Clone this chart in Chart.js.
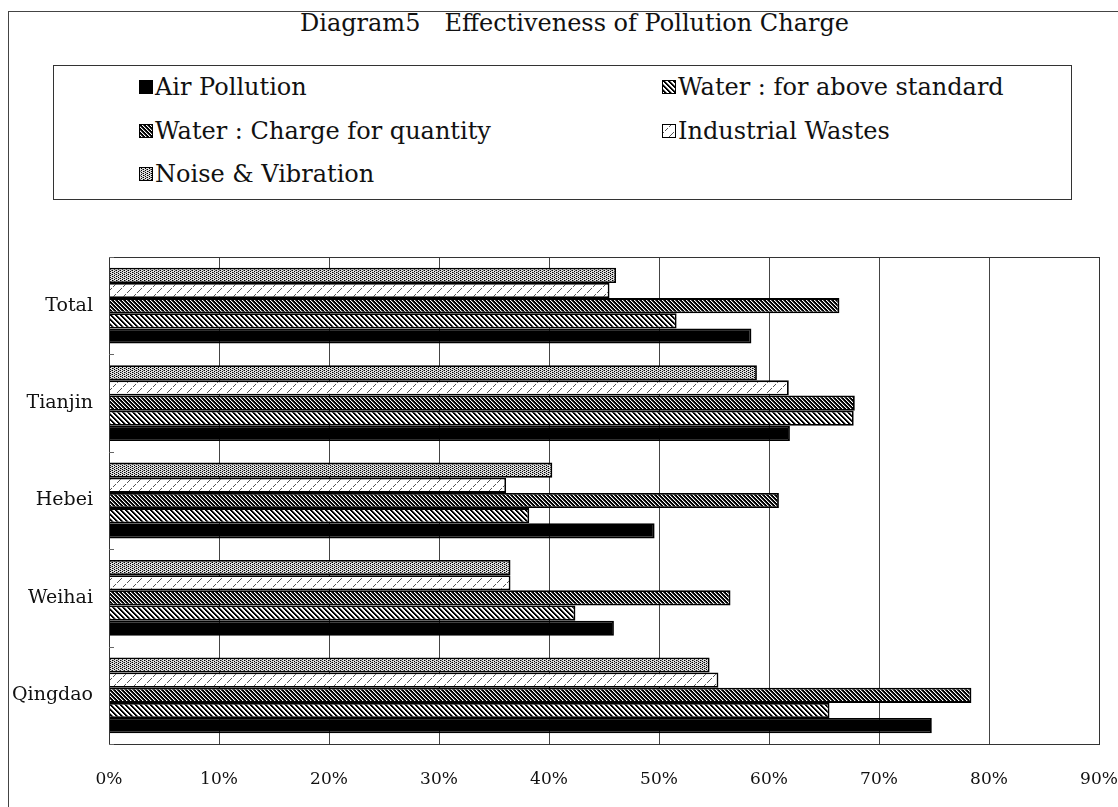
<!DOCTYPE html>
<html>
<head>
<meta charset="utf-8">
<script src="https://cdn.jsdelivr.net/npm/chart.js@4/dist/chart.umd.min.js"></script>
<style>
  html, body { margin: 0; padding: 0; background: #fff; }
  body { width: 1118px; height: 807px; position: relative; overflow: hidden; font-family: "DejaVu Serif", "Liberation Serif", serif; color: #111; }
  #frame { position: absolute; left: 8px; top: 11px; width: 1200px; height: 900px; border: 1px solid #444; box-sizing: border-box; }
  #title { position: absolute; left: 300px; top: 7px; font-size: 24px; white-space: pre; }
  #legend { position: absolute; left: 53px; top: 65px; width: 1019px; height: 135px; border: 1px solid #333; box-sizing: border-box; }
  .item { position: absolute; font-size: 24px; line-height: 28px; white-space: pre; display: flex; align-items: center; }
  .item canvas { margin-right: 2px; }
  #wrap { position: absolute; left: 0; top: 0; width: 1118px; height: 807px; }
</style>
</head>
<body>
<div id="frame"></div>
<div id="title">Diagram5　Effectiveness of Pollution Charge</div>
<div id="legend"></div>
<div id="wrap"><canvas id="chart" width="1118" height="807"></canvas></div>
<script>
// Regions, top to bottom
const categories = ['Total', 'Tianjin', 'Hebei', 'Weihai', 'Qingdao'];

// Share rating each charge as effective (%)
const airPollution       = [58.4, 61.9, 49.6, 45.9, 74.8];
const waterAboveStandard = [51.6, 67.7, 38.2, 42.4, 65.5];
const waterQuantity      = [66.4, 67.8, 60.9, 56.5, 78.4];
const industrialWastes   = [45.5, 61.8, 36.1, 36.5, 55.4];
const noiseVibration     = [46.1, 58.9, 40.3, 36.5, 54.6];

// Horizontal axis ticks (%)
const xTicks = [0, 10, 20, 30, 40, 50, 60, 70, 80, 90];

// Monochrome fill patterns
function tile(size, draw) {
  const c = document.createElement('canvas');
  c.width = size; c.height = size;
  const g = c.getContext('2d');
  g.fillStyle = '#fff'; g.fillRect(0, 0, size, size);
  draw(g, size);
  return c;
}
const tiles = {
  solid: tile(4, (g, s) => { g.fillStyle = '#000'; g.fillRect(0, 0, s, s); }),
  backHatch: tile(5, (g, s) => {
    g.fillStyle = '#000';
    for (let i = 0; i < s; i++) { g.fillRect(i, i, 1, 1); g.fillRect((i + 1) % s, i, 1, 1); }
    g.fillStyle = '#888';
    for (let i = 0; i < s; i++) { g.fillRect((i + 2) % s, i, 1, 1); }
  }),
  denseHatch: tile(4, (g, s) => {
    g.fillStyle = '#000';
    for (let i = 0; i < s; i++) { g.fillRect(i, i, 1, 1); g.fillRect((i + 1) % s, i, 1, 1); }
    g.fillStyle = '#555';
    for (let i = 0; i < s; i++) { g.fillRect((i + 3) % s, i, 1, 1); }
  }),
  lightSlash: tile(10, (g, s) => {
    g.fillStyle = '#555';
    for (let i = 0; i < s; i++) {
      if (i % 4 === 3) continue;
      g.fillRect(s - 1 - i, i, 1, 1);
    }
  }),
  dots: tile(4, (g, s) => {
    g.fillStyle = '#ddd'; g.fillRect(0, 0, s, s);
    g.fillStyle = '#000';
    g.fillRect(0, 0, 1, 1); g.fillRect(2, 1, 1, 1); g.fillRect(0, 2, 1, 1); g.fillRect(2, 3, 1, 1);
    g.fillStyle = '#777';
    g.fillRect(1, 0, 1, 1); g.fillRect(3, 2, 1, 1);
  })
};
const ctxTmp = document.createElement('canvas').getContext('2d');
const pat = name => ctxTmp.createPattern(tiles[name], 'repeat');

// Series; chart order is top-to-bottom within each region
const series = [
  { label: 'Noise & Vibration',           data: noiseVibration,     fill: 'dots' },
  { label: 'Industrial Wastes',           data: industrialWastes,   fill: 'lightSlash' },
  { label: 'Water : Charge for quantity', data: waterQuantity,      fill: 'denseHatch' },
  { label: 'Water : for above standard',  data: waterAboveStandard, fill: 'backHatch' },
  { label: 'Air Pollution',               data: airPollution,       fill: 'solid' }
];

// Legend box (two columns)
const legendOrder = [
  ['Air Pollution', 'solid', 0, 0],
  ['Water : for above standard', 'backHatch', 1, 0],
  ['Water : Charge for quantity', 'denseHatch', 0, 1],
  ['Industrial Wastes', 'lightSlash', 1, 1],
  ['Noise & Vibration', 'dots', 0, 2]
];
const legendEl = document.getElementById('legend');
legendOrder.forEach(([text, fill, col, row]) => {
  const d = document.createElement('div');
  d.className = 'item';
  d.style.left = (col === 0 ? 85 : 608) + 'px';
  d.style.top = (7 + row * 43.5) + 'px';
  const sw = document.createElement('canvas');
  sw.width = 14; sw.height = 14;
  const g = sw.getContext('2d');
  g.fillStyle = g.createPattern(tiles[fill], 'repeat');
  g.fillRect(0, 0, 14, 14);
  g.strokeStyle = '#000'; g.lineWidth = 1;
  g.strokeRect(0.5, 0.5, 13, 13);
  d.appendChild(sw);
  d.appendChild(document.createTextNode(text));
  legendEl.appendChild(d);
});

// Frame around the plotting area and inward category ticks
const plotFrame = {
  id: 'plotFrame',
  afterDraw(chart) {
    const { ctx, chartArea: a, scales } = chart;
    ctx.save();
    ctx.strokeStyle = '#333'; ctx.lineWidth = 1;
    ctx.strokeRect(Math.round(a.left) + 0.5, Math.round(a.top) + 0.5, Math.round(a.right - a.left), Math.round(a.bottom - a.top));
    const y = scales.y;
    ctx.strokeStyle = '#666';
    for (let i = 0; i <= categories.length; i++) {
      const py = Math.round(y.getPixelForValue(i - 0.5)) + 0.5;
      ctx.beginPath(); ctx.moveTo(a.left, py); ctx.lineTo(a.left + 5, py); ctx.stroke();
    }
    ctx.restore();
  }
};

new Chart(document.getElementById('chart'), {
  type: 'bar',
  data: {
    labels: categories,
    datasets: series.map(s => ({
      label: s.label,
      data: s.data,
      backgroundColor: pat(s.fill),
      borderColor: '#000',
      borderWidth: 1.8,
      borderSkipped: 'start',
      barPercentage: 1.0,
      categoryPercentage: 0.778
    }))
  },
  options: {
    indexAxis: 'y',
    responsive: false,
    maintainAspectRatio: false,
    animation: false,
    events: [],
    layout: { padding: { top: 257, left: 0, right: 19, bottom: 0 } },
    plugins: { legend: { display: false }, title: { display: false }, tooltip: { enabled: false } },
    scales: {
      x: {
        min: xTicks[0],
        max: xTicks[xTicks.length - 1],
        afterBuildTicks: sc => { sc.ticks = xTicks.map(v => ({ value: v })); },
        afterFit: sc => { sc.height = 63; sc.paddingLeft = 0; sc.paddingRight = 0; },
        grid: { color: '#444', lineWidth: 1, drawTicks: false },
        border: { color: '#333' },
        ticks: {
          padding: 25,
          color: '#111',
          font: { family: 'DejaVu Serif', size: 17 },
          callback: v => v + '%'
        }
      },
      y: {
        afterFit: sc => { sc.width = 109; },
        grid: { display: false, drawTicks: false },
        border: { color: '#333' },
        ticks: {
          padding: 16,
          color: '#111',
          font: { family: 'DejaVu Serif', size: 19 }
        }
      }
    }
  },
  plugins: [plotFrame]
});
</script>
</body>
</html>
